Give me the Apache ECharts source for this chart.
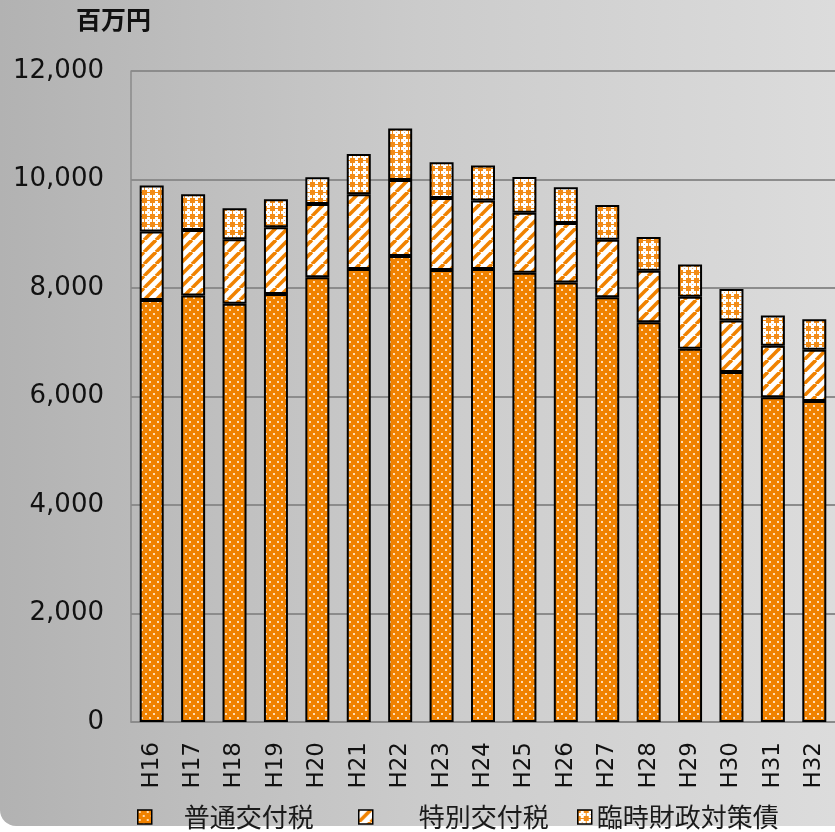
<!DOCTYPE html>
<html>
<head>
<meta charset="utf-8">
<script src="https://cdn.jsdelivr.net/npm/echarts@6/dist/echarts.min.js"></script>
<style>
html,body{margin:0;padding:0;background:#ffffff;}
#chart{width:835px;height:832px;}
</style>
</head>
<body>
<div id="chart"></div>
<script>
const categories = ['H16','H17','H18','H19','H20','H21','H22','H23','H24','H25','H26','H27','H28','H29','H30','H31','H32'];
const normalTax  = [7780, 7860, 7710, 7890, 8200, 8350, 8590, 8330, 8350, 8280, 8100, 7830, 7370, 6880, 6450, 5985, 5915];
const specialTax = [1260, 1210, 1190, 1230, 1350, 1380, 1400, 1330, 1265, 1105, 1100, 1060, 950, 960, 950, 950, 945];
const tempBonds  = [850, 660, 570, 515, 490, 740, 950, 660, 645, 660, 655, 640, 620, 595, 580, 560, 565];
const seriesNames = ['普通交付税', '特別交付税', '臨時財政対策債'];
const yMin = 0, yMax = 12000, yStep = 2000;
const unitLabel = '百万円';

const ORANGE = '#F08200';

function makeDots() {
  const c = document.createElement('canvas'); c.width = 8; c.height = 8;
  const g = c.getContext('2d');
  g.fillStyle = ORANGE; g.fillRect(0,0,8,8);
  g.fillStyle = 'rgba(255,230,200,0.9)';
  g.fillRect(1,1,2,2); g.fillRect(5,5,2,2);
  return c;
}
function makeStripes() {
  const s = 12;
  const c = document.createElement('canvas'); c.width = s; c.height = s;
  const g = c.getContext('2d');
  g.fillStyle = '#ffffff'; g.fillRect(0,0,s,s);
  g.strokeStyle = ORANGE; g.lineWidth = 3.6;
  for (const o of [-s, 0, s]) {
    g.beginPath(); g.moveTo(o, s); g.lineTo(o + s, 0); g.stroke();
  }
  return c;
}
function makeCross() {
  const c = document.createElement('canvas'); c.width = 8; c.height = 8;
  const g = c.getContext('2d');
  g.fillStyle = '#F28C18'; g.fillRect(0,0,8,8);
  g.fillStyle = '#ffffff';
  g.fillRect(3,1,3,7); g.fillRect(1,3,7,3);
  g.fillStyle = '#F6B066';
  g.fillRect(4,4,1,1);
  return c;
}

const fills = [
  {image: makeDots(), repeat: 'repeat'},
  {image: makeStripes(), repeat: 'repeat'},
  {image: makeCross(), repeat: 'repeat'}
];
const seriesData = [normalTax, specialTax, tempBonds];

function fmt(v) { return String(v).replace(/\B(?=(\d{3})+(?!\d))/g, ','); }

const chart = echarts.init(document.getElementById('chart'), null, {renderer: 'canvas'});

const legendPos = [
  {left: 137, pad: 27},
  {left: 358, pad: 41},
  {left: 577, pad: 0}
];

chart.setOption({
  animation: false,
  backgroundColor: 'transparent',
  graphic: [{
    type: 'rect', z: -100, silent: true,
    shape: {x: 0, y: 0, width: 835, height: 826, r: [0, 0, 0, 16]},
    style: {
      fill: {type: 'linear', x: 0, y: 0, x2: 1, y2: 0,
        colorStops: [{offset: 0, color: '#b2b2b2'}, {offset: 0.5, color: '#cbcbcb'}, {offset: 1, color: '#dcdcdc'}]}
    }
  }],
  title: {
    text: unitLabel, left: 76, top: 7, padding: 0,
    textStyle: {fontFamily: 'Noto Sans CJK JP', fontSize: 25, fontWeight: 'bold', color: '#111'}
  },
  legend: seriesNames.map((n, i) => ({
    data: [{name: n, icon: 'rect'}], left: legendPos[i].left, top: 804, padding: 0,
    itemWidth: 14, itemHeight: 14, selectedMode: false,
    itemStyle: {borderColor: '#000', borderWidth: 1.5},
    textStyle: {fontFamily: 'Noto Sans CJK JP', fontSize: 26, color: '#1a1a1a', padding: [0, 0, 0, legendPos[i].pad]}
  })),
  grid: {left: 131, top: 71, width: 709, height: 651, containLabel: false},
  xAxis: {
    type: 'category', data: categories,
    axisLine: {show: true, lineStyle: {color: '#8a8a8a', width: 1.5}},
    axisTick: {show: false},
    axisLabel: {rotate: 90, margin: 20, fontFamily: 'DejaVu Sans', fontSize: 23, color: '#111', interval: 0}
  },
  yAxis: {
    type: 'value', min: yMin, max: yMax, interval: yStep,
    axisLine: {show: true, lineStyle: {color: '#8a8a8a', width: 1.5}},
    axisTick: {show: false},
    splitLine: {show: true, lineStyle: {color: '#8c8c8c', width: 1.8}},
    axisLabel: {margin: 27, fontFamily: 'DejaVu Sans', fontSize: 26, color: '#111', formatter: fmt}
  },
  series: seriesNames.map((n, i) => ({
    name: n, type: 'bar', stack: 'total', barWidth: 24,
    data: seriesData[i],
    itemStyle: {color: fills[i], borderColor: '#000', borderWidth: 2}
  }))
});
</script>
</body>
</html>
